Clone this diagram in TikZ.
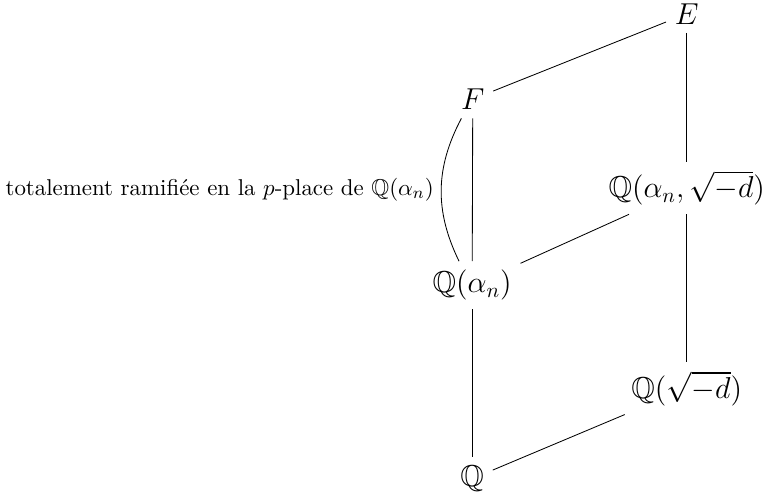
\documentclass[tikz,border=0pt]{standalone}
\usepackage{amssymb}
\begin{document}
\begin{tikzpicture}[font=\Large]
	\tikzset{corps/.style={inner sep=4pt}}
	\useasboundingbox (0,0) rectangle (12.85,-8.40);
	
	% les corps
	\node[corps] (E) at (11.49,-0.23) {\(E\)};
	\node[corps] (F) at (7.91,-1.66) {\(F\)};
	\node[corps] (Qad) at (11.49,-3.15) {\(\mathbb{Q}(\alpha_n,\sqrt{-d})\)};
	\node[corps] (Qa) at (7.90,-4.77) {\(\mathbb{Q}(\alpha_n)\)};
	\node[corps] (Qd) at (11.49,-6.50) {\(\mathbb{Q}(\sqrt{-d})\)};
	\node[corps] (Q) at (7.90,-8.01) {\(\mathbb{Q}\)};
	
	% les inclusions
	\draw (F) -- (E);
	\draw (E) -- (Qad);
	\draw (F) -- (Qa);
	\draw (Qa) -- (Qad);
	\draw (Qad) -- (Qd);
	\draw (Qa) -- (Q);
	\draw (Q) -- (Qd);
	
	% la ramification
	\draw ([xshift=-0.19cm]F.south) to[bend right=27] node[left, font=\fontsize{10.9}{13}\selectfont] (ram) {totalement ramifiée en la \(p\)-place de \(\mathbb{Q}(\alpha_n)\)} ([xshift=-0.22cm]Qa.north);
\end{tikzpicture}
\end{document}
